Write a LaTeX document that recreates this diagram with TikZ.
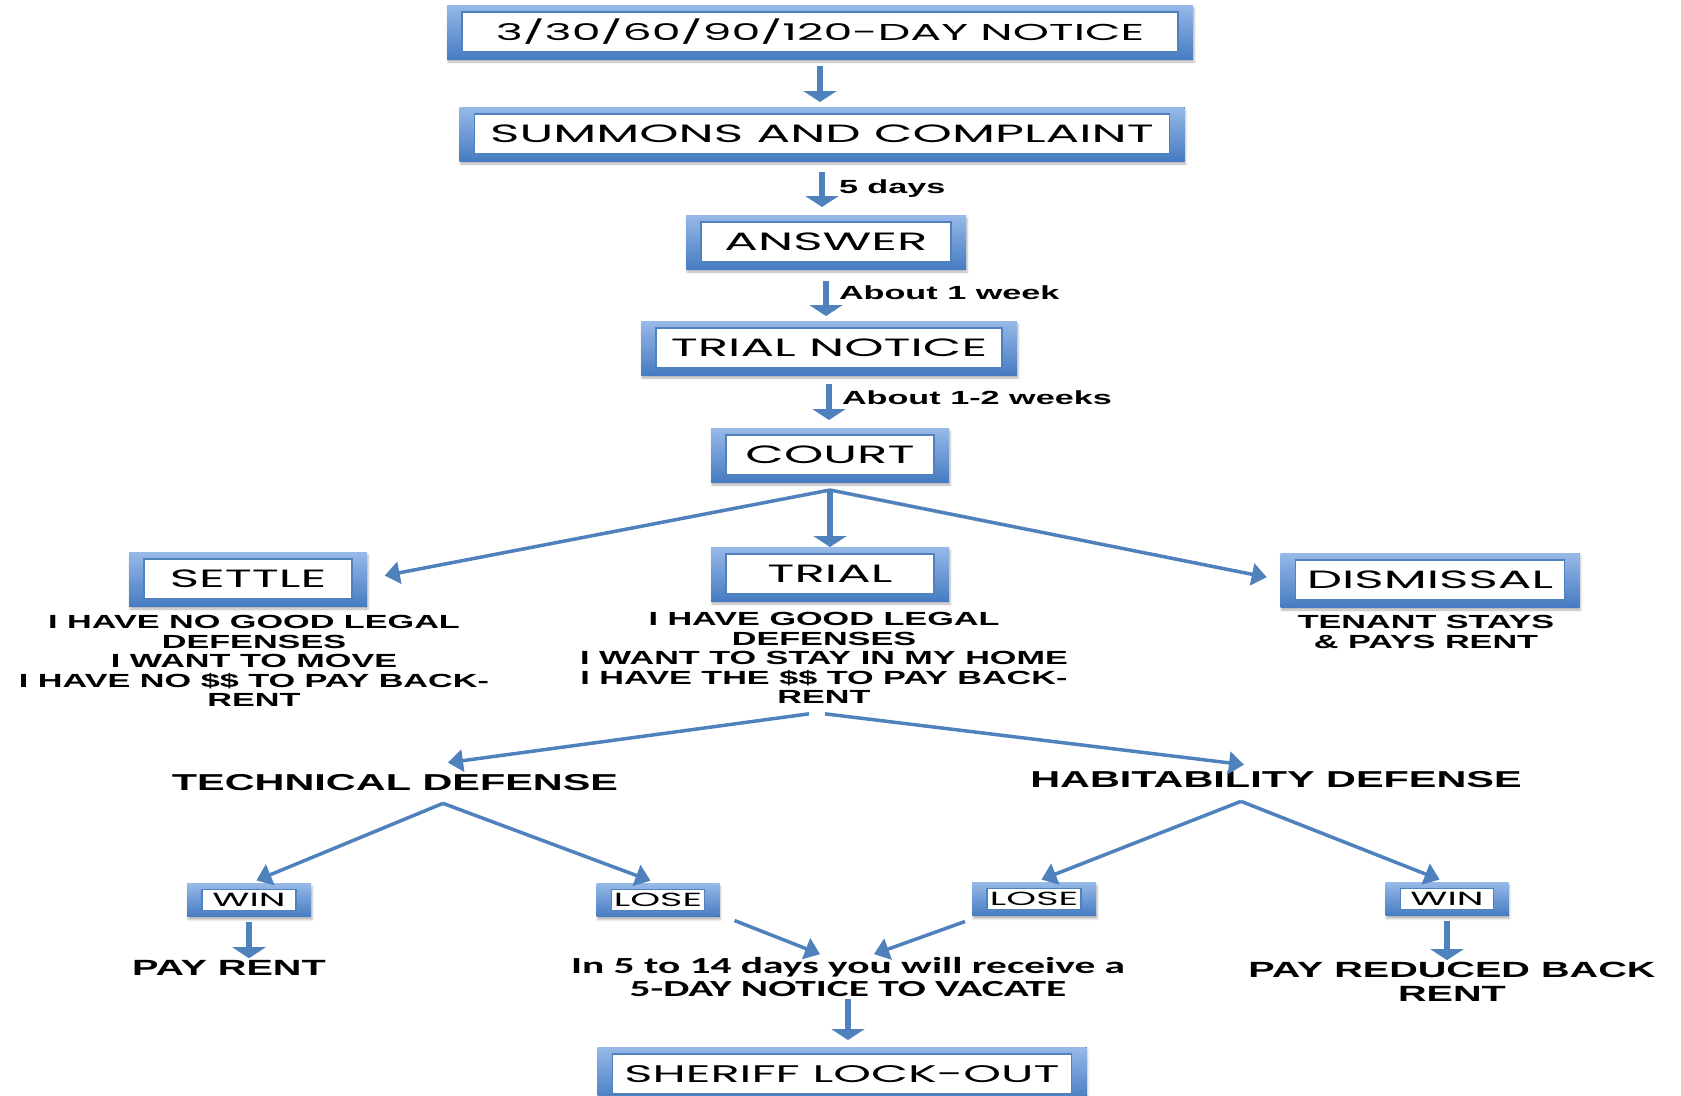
\documentclass[tikz,border=0pt]{standalone}
\usepackage{fontspec}
\setmainfont{Liberation Sans}
\newfontfamily\boxfont[FakeStretch=2.0]{Poppins}
\newfontfamily\lblfont[FakeStretch=1.8]{Liberation Sans Bold}
\newfontfamily\notefont[FakeStretch=1.8]{Carlito Bold}
\usepackage{xcolor}
\usepackage{tikz}
\usetikzlibrary{positioning, calc, backgrounds, shadows.blur, arrows.meta}

\definecolor{flowblue}{RGB}{79,129,189}
\definecolor{ringtop}{RGB}{151,185,232}
\definecolor{ringbot}{RGB}{70,124,194}

\tikzset{
    stage/.style={draw=flowblue, line width=1.5pt, fill=white, inner sep=0pt,
        minimum height=40pt, outer xsep=15pt, outer ysep=7pt,
        font=\boxfont\fontsize{25}{28}\selectfont},
    smallstage/.style={stage, minimum height=21pt, outer ysep=6pt,
        font=\boxfont\fontsize{19}{21}\selectfont},
    reason/.style={align=center, inner sep=2pt, font=\lblfont\fontsize{19}{19.5}\selectfont},
    branch/.style={inner sep=2pt, font=\lblfont\fontsize{23}{25}\selectfont},
    result/.style={align=center, inner sep=2pt, font=\lblfont\fontsize{22}{24}\selectfont},
    notetext/.style={align=center, inner sep=2pt, font=\notefont\fontsize{23}{23}\selectfont},
    steplabel/.style={inner sep=2pt, font=\lblfont\fontsize{19}{20}\selectfont},
    flow/.style={draw=flowblue, line width=6pt, -{Triangle[width=33pt,length=11pt]}},
    fork/.style={draw=flowblue, line width=3.5pt, -{Triangle[width=22pt,length=15pt]}}
}

\begin{document}
\begin{tikzpicture}[x=1pt,y=-1pt]
    \clip (0,0) rectangle (1681,1095);

    \node[stage, minimum width=716pt, font=\boxfont\fontsize{23}{28}\selectfont] (notice) at (820,32) {3/30/60/90/120-DAY NOTICE};
    \node[stage, minimum width=695pt] (summons) at (822,134) {SUMMONS AND COMPLAINT};
    \node[stage, minimum width=250pt] (answer) at (826,242) {ANSWER};
    \node[stage, minimum width=346pt] (trialnotice) at (829,348) {TRIAL NOTICE};
    \node[stage, minimum width=208pt] (court) at (830,455) {COURT};
    \node[stage, minimum width=208pt] (settle) at (248,579) {SETTLE};
    \node[stage, minimum width=208pt] (trial) at (830,574) {TRIAL};
    \node[stage, minimum width=269pt] (dismissal) at (1430,580) {DISMISSAL};
    \node[smallstage, minimum width=94pt] (winleft) at (249,900) {WIN};
    \node[smallstage, minimum width=93pt] (loseleft) at (658,900) {LOSE};
    \node[smallstage, minimum width=94pt] (loseright) at (1034,899) {LOSE};
    \node[smallstage, minimum width=93pt] (winright) at (1447,899) {WIN};
    \node[stage, minimum width=459pt, font=\boxfont\fontsize{24}{28}\selectfont] (sheriff) at (842,1074) {SHERIFF LOCK-OUT};

    \begin{scope}[on background layer]
        \foreach \n in {notice,summons,answer,trialnotice,court,settle,trial,dismissal,
                        winleft,loseleft,loseright,winright,sheriff}
            \fill[top color=ringtop, bottom color=ringbot,
                  blur shadow={shadow xshift=1pt, shadow yshift=-3pt, shadow opacity=30}]
                (\n.north west) rectangle (\n.south east);
    \end{scope}

    \node[reason] (settletxt) at (254,661) {I HAVE NO GOOD LEGAL\\DEFENSES\\I WANT TO MOVE\\I HAVE NO \$\$ TO PAY BACK-\\RENT};
    \node[reason] (trialtxt) at (824,658) {I HAVE GOOD LEGAL\\DEFENSES\\I WANT TO STAY IN MY HOME\\I HAVE THE \$\$ TO PAY BACK-\\RENT};
    \node[reason] (dismisstxt) at (1426,632) {TENANT STAYS\\\& PAYS RENT};
    \node[branch] (technical) at (395,783) {TECHNICAL DEFENSE};
    \node[branch] (habitability) at (1276,780) {HABITABILITY DEFENSE};
    \node[result] (payrent) at (229,968) {PAY RENT};
    \node[result] (payreduced) at (1452,982) {PAY REDUCED BACK\\RENT};
    \node[notetext] (vacate) at (848,977) {In 5 to 14 days you will receive a\\5-DAY NOTICE TO VACATE};

    \draw[flow, shorten <=7pt, shorten >=5pt] (notice.south) -- (notice.south |- summons.north);
    \draw[flow, shorten <=11pt, shorten >=8pt] (summons.south) -- (summons.south |- answer.north)
        node[steplabel, pos=0.52, right=12pt] {5 days};
    \draw[flow, shorten <=12pt, shorten >=5pt] (answer.south) -- (answer.south |- trialnotice.north)
        node[steplabel, pos=0.46, right=8pt] {About 1 week};
    \draw[flow, shorten <=9pt, shorten >=8pt] (trialnotice.south) -- (trialnotice.south |- court.north)
        node[steplabel, pos=0.43, right=8pt] {About 1-2 weeks};

    \coordinate (courtfan) at ([yshift=-8pt]court.south);
    \draw[fork, shorten >=18pt] (courtfan) -- (settle.east);
    \draw[flow] (courtfan) -- (trial.north);
    \draw[fork, shorten >=14pt] (courtfan) -- (dismissal.west);

    \draw[fork] ([xshift=-15pt,yshift=-8pt]trialtxt.south) -- ([xshift=53pt,yshift=10pt]technical.north);
    \draw[fork] ([xshift=1pt,yshift=-8pt]trialtxt.south) -- ([xshift=-32pt,yshift=5pt]habitability.north);

    \coordinate (techfan) at ([xshift=48pt,yshift=-10pt]technical.south);
    \coordinate (habfan) at ([xshift=-35pt,yshift=-11pt]habitability.south);
    \draw[fork, shorten >=8pt] (techfan) -- (winleft.north);
    \draw[fork, shorten >=8pt] (techfan) -- (loseleft.north);
    \draw[fork, shorten >=8pt] (habfan) -- (loseright.north);
    \draw[fork, shorten >=8pt] (habfan) -- (winright.north);

    \draw[flow, shorten <=5pt] (winleft.south) -- (winleft.south |- payrent.north);
    \draw[flow, shorten <=5pt] (winright.south) -- (winright.south |- payreduced.north);
    \draw[fork] ([xshift=15pt,yshift=-4pt]loseleft.south east) -- ([xshift=-28pt,yshift=1pt]vacate.north);
    \draw[fork] ([xshift=-7pt,yshift=-6pt]loseright.south west) -- ([xshift=26pt,yshift=1pt]vacate.north);
    \draw[flow, shorten >=7pt] (vacate.south) -- (vacate.south |- sheriff.north);
\end{tikzpicture}
\end{document}
